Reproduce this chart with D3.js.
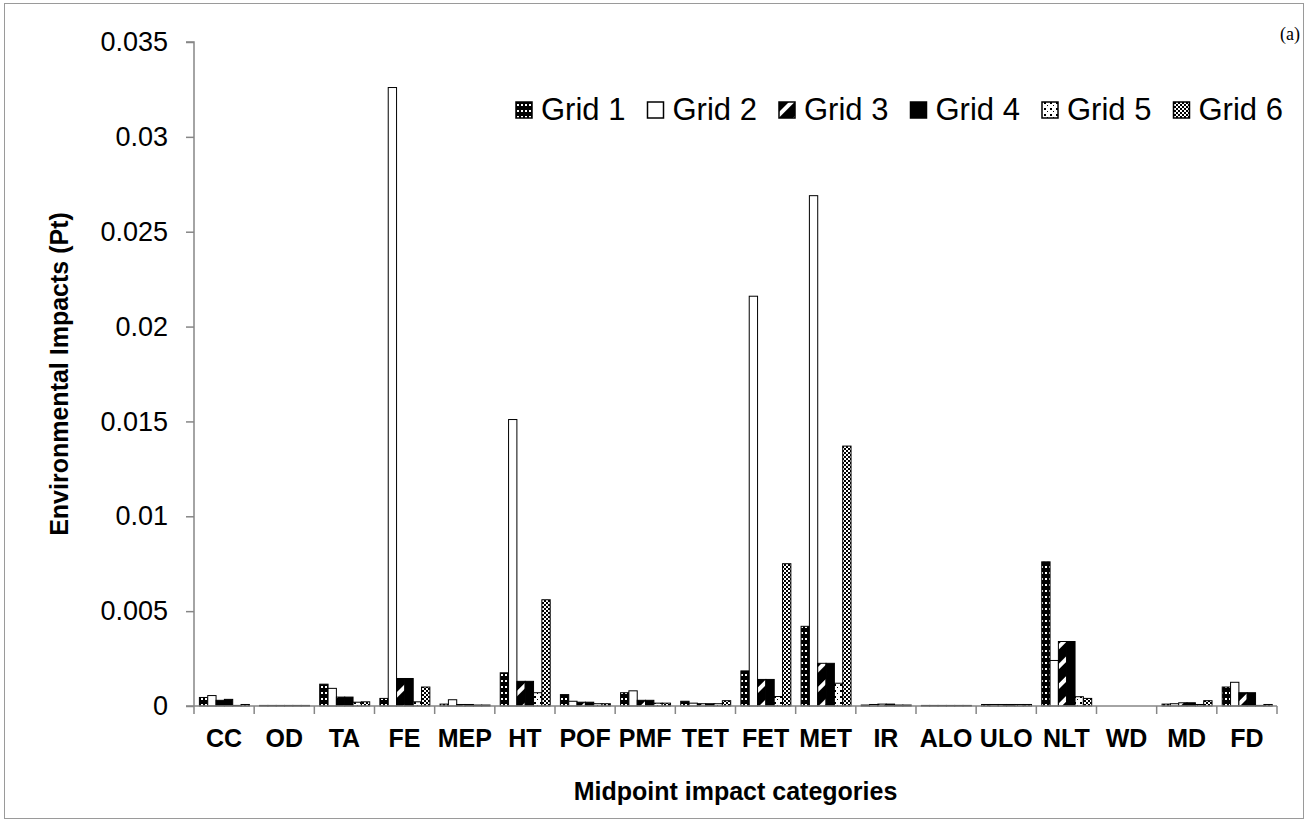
<!DOCTYPE html>
<html>
<head>
<meta charset="utf-8">
<script src="https://cdn.jsdelivr.net/npm/d3@7"></script>
<style>
  body { margin: 0; background: #fff; }
  svg { display: block; font-family: Arial, "Liberation Sans", sans-serif; }
</style>
</head>
<body>
<svg id="chart" width="1306" height="824"></svg>
<script>
const categories = ['CC', 'OD', 'TA', 'FE', 'MEP', 'HT', 'POF', 'PMF', 'TET', 'FET', 'MET', 'IR', 'ALO', 'ULO', 'NLT', 'WD', 'MD', 'FD'];
const seriesNames = ['Grid 1', 'Grid 2', 'Grid 3', 'Grid 4', 'Grid 5', 'Grid 6'];

const grid1 = [0.00045, 0.00003, 0.00115, 0.0004, 0.0001, 0.00175, 0.0006, 0.0007, 0.00025, 0.00185, 0.0042, 0.00005, 0.00003, 0.00008, 0.0076, 0, 0.0001, 0.001];
const grid2 = [0.00055, 0.00003, 0.00093, 0.0326, 0.00033, 0.0151, 0.00025, 0.0008, 0.00015, 0.0216, 0.0269, 0.00008, 0.00003, 0.00008, 0.0024, 0, 0.00012, 0.00125];
const grid3 = [0.0003, 0.00003, 0.00047, 0.00145, 0.00008, 0.0013, 0.0002, 0.0003, 0.00012, 0.0014, 0.00225, 0.0001, 0.00003, 0.00008, 0.0034, 0, 0.00017, 0.0007];
const grid4 = [0.00035, 0.00003, 0.00047, 0.00145, 0.00008, 0.0013, 0.0002, 0.0003, 0.00012, 0.0014, 0.00225, 0.0001, 0.00003, 0.00008, 0.0034, 0, 0.00017, 0.0007];
const grid5 = [0.00003, 0.00003, 0.0002, 0.00022, 0.00005, 0.0007, 0.00012, 0.00015, 0.00012, 0.0005, 0.0012, 0.00005, 0.00003, 0.00008, 0.00049, 0, 0.00008, 0.00003];
const grid6 = [0.00008, 0.00003, 0.00022, 0.001, 0.00005, 0.0056, 0.00012, 0.00015, 0.00028, 0.0075, 0.0137, 0.00005, 0.00003, 0.00008, 0.0004, 0, 0.00028, 0.00008];
const yTicks = [0, 0.005, 0.01, 0.015, 0.02, 0.025, 0.03, 0.035];

const allSeries = [grid1, grid2, grid3, grid4, grid5, grid6];

const SVG = d3.select('#chart');
const WIDTH = +SVG.attr('width');
const HEIGHT = +SVG.attr('height');
const M = { left: 194, right: WIDTH - 1277, top: 42, bottom: HEIGHT - 706 };
const AXIS_COLOR = '#868686';

// outer frame
SVG.append('rect')
  .attr('x', 4.5).attr('y', 3.5)
  .attr('width', 1299).attr('height', 815)
  .attr('fill', '#fff').attr('stroke', '#9a9a9a');

// fill patterns
const DEFS = SVG.append('defs');

const P1 = DEFS.append('pattern').attr('id', 'p1')
  .attr('patternUnits', 'userSpaceOnUse').attr('width', 4).attr('height', 6);
P1.append('rect').attr('width', 4).attr('height', 6).attr('fill', '#000');
P1.append('rect').attr('x', 1).attr('y', 2).attr('width', 2).attr('height', 2).attr('fill', '#fff');

const P3 = DEFS.append('pattern').attr('id', 'p3')
  .attr('patternUnits', 'userSpaceOnUse').attr('width', 14).attr('height', 14)
  .attr('patternTransform', 'rotate(45)');
P3.append('rect').attr('width', 14).attr('height', 14).attr('fill', '#000');
P3.append('rect').attr('x', 0).attr('width', 4).attr('height', 14).attr('fill', '#fff');

const P5 = DEFS.append('pattern').attr('id', 'p5')
  .attr('patternUnits', 'userSpaceOnUse').attr('width', 6).attr('height', 6);
P5.append('rect').attr('width', 6).attr('height', 6).attr('fill', '#fff');
P5.append('rect').attr('x', 0).attr('y', 0).attr('width', 2).attr('height', 2).attr('fill', '#000');
P5.append('rect').attr('x', 3).attr('y', 3).attr('width', 1).attr('height', 1).attr('fill', '#000');

const P6 = DEFS.append('pattern').attr('id', 'p6')
  .attr('patternUnits', 'userSpaceOnUse').attr('width', 4).attr('height', 4);
P6.append('rect').attr('width', 4).attr('height', 4).attr('fill', '#fff');
P6.append('rect').attr('x', 0).attr('y', 0).attr('width', 2).attr('height', 2).attr('fill', '#000');
P6.append('rect').attr('x', 2).attr('y', 2).attr('width', 2).attr('height', 2).attr('fill', '#000');

const fills = ['url(#p1)', '#fff', 'url(#p3)', '#000', 'url(#p5)', 'url(#p6)'];

// scales
const x0 = d3.scaleBand().domain(categories).range([M.left, WIDTH - M.right]).paddingInner(0).paddingOuter(0);
const x1 = d3.scaleBand().domain(d3.range(seriesNames.length))
  .range([5.4, x0.bandwidth() - 4.8]).padding(0);
const y = d3.scaleLinear().domain([0, 0.035]).range([HEIGHT - M.bottom, M.top]);

// bars
const G = SVG.append('g');
categories.forEach((cat, ci) => {
  allSeries.forEach((vals, si) => {
    const v = vals[ci];
    if (!v) return;
    G.append('rect')
      .attr('x', x0(cat) + x1(si))
      .attr('y', y(v))
      .attr('width', x1.bandwidth())
      .attr('height', y(0) - y(v))
      .attr('fill', fills[si])
      .attr('stroke', '#000')
      .attr('stroke-width', 1);
  });
});

// y axis
const Y_AXIS = SVG.append('g')
  .attr('transform', `translate(${M.left},0)`)
  .call(d3.axisLeft(y).tickValues(yTicks).tickSize(8).tickPadding(18)
    .tickFormat((d) => (d === 0 ? '0' : String(+d.toFixed(3)))));
Y_AXIS.selectAll('path, line').attr('stroke', AXIS_COLOR).attr('stroke-width', 1.5);
Y_AXIS.select('.domain').attr('d', `M-8,${y(0.035)}H0V${y(0)}`);
Y_AXIS.selectAll('text')
  .attr('font-size', '27px').attr('fill', '#000')
  .attr('font-family', 'Arial, "Liberation Sans", sans-serif');

// x axis, ticks sit between categories
const bounds = categories.map((c) => x0(c)).concat([x0(categories[categories.length - 1]) + x0.bandwidth()]);
const X_AXIS = SVG.append('g').attr('transform', `translate(0,${y(0)})`);
X_AXIS.append('line')
  .attr('x1', M.left - 8).attr('x2', bounds[bounds.length - 1])
  .attr('stroke', AXIS_COLOR).attr('stroke-width', 1.5);
X_AXIS.selectAll('line.tick')
  .data(bounds)
  .join('line')
  .attr('class', 'tick')
  .attr('x1', (d) => d).attr('x2', (d) => d)
  .attr('y1', 0).attr('y2', 8)
  .attr('stroke', AXIS_COLOR).attr('stroke-width', 1.5);
X_AXIS.selectAll('text')
  .data(categories)
  .join('text')
  .attr('x', (d) => x0(d) + x0.bandwidth() / 2)
  .attr('y', 41)
  .attr('text-anchor', 'middle')
  .attr('font-weight', 'bold')
  .attr('font-size', '25px')
  .text((d) => d);

// axis titles
SVG.append('text')
  .attr('x', (M.left + WIDTH - M.right) / 2)
  .attr('y', 800)
  .attr('text-anchor', 'middle')
  .attr('font-weight', 'bold')
  .attr('font-size', '25px')
  .text('Midpoint impact categories');

SVG.append('text')
  .attr('transform', `translate(68,${(y(0) + y(0.035)) / 2}) rotate(-90)`)
  .attr('text-anchor', 'middle')
  .attr('font-weight', 'bold')
  .attr('font-size', '25px')
  .text('Environmental Impacts (Pt)');

// legend
const LEGEND = SVG.append('g');
seriesNames.forEach((name, i) => {
  const lx = 516 + i * 131.5;
  LEGEND.append('rect')
    .attr('x', lx).attr('y', 102)
    .attr('width', 16).attr('height', 16)
    .attr('fill', fills[i]).attr('stroke', '#000').attr('stroke-width', 1.5);
  LEGEND.append('text')
    .attr('x', lx + 25).attr('y', 120)
    .attr('font-size', '31px')
    .text(name);
});

// panel tag
SVG.append('text')
  .attr('x', 1300).attr('y', 40)
  .attr('text-anchor', 'end')
  .attr('font-family', '"Liberation Serif", "Times New Roman", serif')
  .attr('font-size', '18px')
  .text('(a)');
</script>
</body>
</html>
